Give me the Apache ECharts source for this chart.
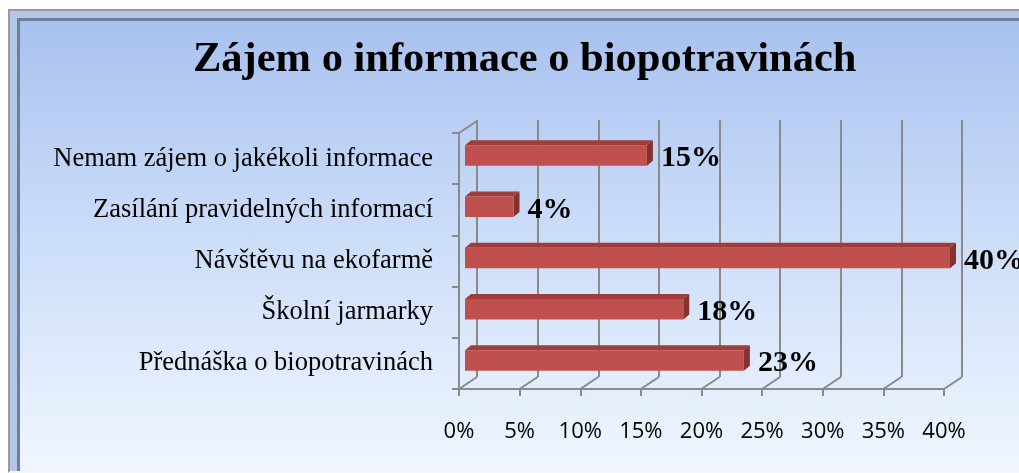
<!DOCTYPE html>
<html>
<head>
<meta charset="utf-8">
<script src="https://cdn.jsdelivr.net/npm/echarts@6/dist/echarts.min.js"></script>
<style>
  html, body { margin: 0; padding: 0; background: #ffffff; overflow: hidden; }
  .panel {
    position: absolute; left: 8px; top: 9px; width: 1030px; height: 460px;
    border-top: 2px solid #9a9a9a; border-left: 2px solid #9a9a9a; border-bottom: 2px solid #f4f8fe;
    box-shadow: inset 7px 7px 0 #b4c8e6, inset 10px 10px 0 #6e7f9a;
    background: linear-gradient(to bottom, #a6c0ee 0%, #c9dbf8 45%, #f0f6fe 100%);
  }
  #main { position: absolute; left: 0; top: 0; width: 1019px; height: 473px; }
</style>
</head>
<body>
<div class="panel"></div>
<div id="main"></div>
<script>
// kategorie odshora dolu
const categories = [
  'Nemam zájem o jakékoli informace',
  'Zasílání pravidelných informací',
  'Návštěvu na ekofarmě',
  'Školní jarmarky',
  'Přednáška o biopotravinách'
]
const values = [15, 4, 40, 18, 23] // procenta
const xTicks = [0, 5, 10, 15, 20, 25, 30, 35, 40]

const gridColor = '#8a8a8a'
const depth = [18, -12] // posun zadni steny
const barDepth = [6, -5] // hloubka sloupce
const barShift = [6, -3] // sloupec je uprostred hloubky

const chart = echarts.init(document.getElementById('main'))

const option = {
  backgroundColor: 'transparent',
  animation: false,
  title: {
    text: 'Zájem o informace o biopotravinách',
    left: 188,
    top: 34,
    textStyle: { fontFamily: 'Liberation Serif', fontWeight: 'bold', fontSize: 42.5, color: '#000' }
  },
  grid: [
    { left: 459, right: 75, top: 133, bottom: 84 },
    { left: 477, right: 57, top: 120, bottom: 96 }
  ],
  xAxis: [
    {
      type: 'value', gridIndex: 0, min: 0, max: 40, interval: 5,
      axisLine: { show: true, lineStyle: { color: gridColor, width: 2 } },
      axisTick: { show: true, length: 7, lineStyle: { color: gridColor, width: 2 } },
      splitLine: { show: false },
      axisLabel: { formatter: '{value}%', margin: 32, fontFamily: 'Open Sans', fontSize: 22, color: '#000' }
    },
    {
      type: 'value', gridIndex: 1, min: 0, max: 40, interval: 5,
      axisLine: { show: false }, axisTick: { show: false }, axisLabel: { show: false },
      splitLine: { show: true, lineStyle: { color: gridColor, width: 2 } }
    }
  ],
  yAxis: [
    {
      type: 'category', gridIndex: 0, inverse: true, data: categories,
      axisLine: { show: true, lineStyle: { color: gridColor, width: 2 } },
      axisTick: { show: true, length: 7, lineStyle: { color: gridColor, width: 2 } },
      axisLabel: { margin: 26, padding: [6, 0, 0, 0], fontFamily: 'Liberation Serif', fontSize: 26.5, color: '#000' }
    },
    { type: 'category', gridIndex: 1, inverse: true, data: categories, show: false }
  ],
  series: [
    {
      // sikme cary podlahy a leve steny
      type: 'custom',
      xAxisIndex: 0, yAxisIndex: 0,
      silent: true,
      data: xTicks.map(t => [t, 0]),
      renderItem: function(params, api) {
        const cs = params.coordSys
        const x = api.coord([api.value(0), 0])[0]
        const yb = cs.y + cs.height
        const children = [{
          type: 'line',
          shape: { x1: x, y1: yb, x2: x + depth[0], y2: yb + depth[1] },
          style: { stroke: gridColor, lineWidth: 2 }
        }]
        if (params.dataIndex === 0) {
          children.push({
            type: 'line',
            shape: { x1: cs.x, y1: cs.y, x2: cs.x + depth[0], y2: cs.y + depth[1] },
            style: { stroke: gridColor, lineWidth: 2 }
          })
        }
        return { type: 'group', children: children }
      }
    },
    {
      // 3D sloupce
      type: 'custom',
      xAxisIndex: 0, yAxisIndex: 0,
      data: values.map((v, i) => [v, i]),
      renderItem: function(params, api) {
        const v = api.value(0)
        const p0 = api.coord([0, api.value(1)])
        const p1 = api.coord([v, api.value(1)])
        const h = api.size([0, 1])[1] * 0.4
        const x0 = p0[0] + barShift[0]
        const x1 = p1[0] + barShift[0]
        const yt = p0[1] + barShift[1] - h / 2
        const yb = yt + h
        const dx = barDepth[0], dy = barDepth[1]
        return {
          type: 'group',
          children: [
            {
              type: 'polygon',
              shape: { points: [[x0, yt], [x1, yt], [x1 + dx, yt + dy], [x0 + dx, yt + dy]] },
              style: { fill: '#9e3d3a' }
            },
            {
              type: 'polygon',
              shape: { points: [[x1, yt], [x1 + dx, yt + dy], [x1 + dx, yb + dy], [x1, yb]] },
              style: { fill: '#843230' }
            },
            {
              type: 'rect',
              shape: { x: x0, y: yt, width: x1 - x0, height: h },
              style: { fill: '#c0504d' }
            },
            {
              type: 'text',
              x: x1 + dx + 8,
              y: yt + h / 2 + 3,
              style: {
                text: v + '%',
                fill: '#000',
                font: 'bold 30px "Liberation Serif"',
                verticalAlign: 'middle',
                align: 'left'
              }
            }
          ]
        }
      }
    }
  ]
}

chart.setOption(option)
</script>
</body>
</html>
